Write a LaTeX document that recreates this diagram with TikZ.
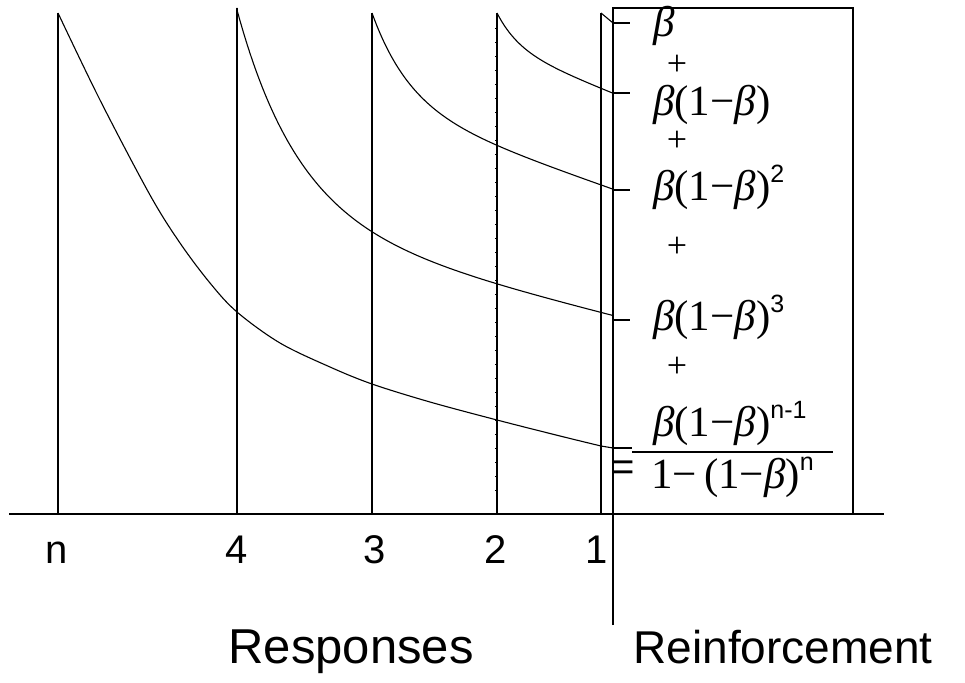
\documentclass[tikz,border=0pt]{standalone}
\usepackage{fontspec}
\setmainfont{Liberation Sans}
\newfontfamily\eqfont{Liberation Serif}
\newfontfamily\labfont{Liberation Sans}
\newcommand\bet{\textit{β}}
\newcommand\supr[1]{\raisebox{0.40em}{\labfont\fontsize{25}{25}\selectfont #1}}
\tikzset{
  axisline/.style={line width=2.2pt},
  respline/.style={line width=1.5pt},
  heavyline/.style={line width=2.4pt},
  decay/.style={line width=1.1pt},
  tickline/.style={line width=1.2pt},
  numlab/.style={font=\fontsize{40}{40}\selectfont, inner sep=0pt, anchor=base},
  eqterm/.style={font=\eqfont\fontsize{43}{43}\selectfont, inner sep=0pt, anchor=base west},
  plusterm/.style={font=\eqfont\fontsize{36}{36}\selectfont, inner sep=0pt, anchor=base},
}
\begin{document}
\begin{tikzpicture}[x=1pt,y=-1pt]
\useasboundingbox (0,0) rectangle (965,682);
% coordinates
\coordinate (axL) at (9,514);
\coordinate (axR) at (884,514);
\coordinate (tn) at (58,13);   \coordinate (bn) at (58,514);
\coordinate (t4) at (237,8);   \coordinate (b4) at (237,514);
\coordinate (t3) at (372,13);  \coordinate (b3) at (372,514);
\coordinate (t2) at (497,13);  \coordinate (b2) at (497,514);
\coordinate (t1) at (601,13);  \coordinate (b1) at (601,514);
\coordinate (rTop) at (613,8); \coordinate (rBot) at (613,625);
\coordinate (boxTR) at (853,8); \coordinate (boxBR) at (853,514);
\coordinate (k1) at (613,23);
\coordinate (k2) at (613,93);
\coordinate (k3) at (613,190);
\coordinate (k4) at (613,320);
\coordinate (k5) at (613,448);
% axis
\draw[axisline] (axL) -- (axR);
% response lines
\draw[respline] (bn) -- (tn);
\draw[heavyline] (b4) -- (t4);
\draw[heavyline] (b3) -- (t3);
\draw[respline] (b2) -- (t2);
\foreach \yy in {28,42,...,500} \draw[line width=0.7pt] (495,\yy) -- (497,\yy);
\draw[respline] (b1) -- (t1);
% reinforcement line and box
\draw[respline] (rBot) -- (rTop) -- (boxTR) -- (boxBR);
% ticks
\foreach \k in {k1,k2,k3,k4} \draw[tickline] (\k) -- ++(17,0);
\draw[tickline] (k5) -- ++(19,0);
% decay curves
\draw[decay] (t1) -- (k1);
\draw[decay] (t2) -- plot[domain=0:116, samples=60] ({497+\x}, {13+34*(1-exp(-\x/22))+0.4*\x}) -- (k2);
\draw[decay] (t3) -- plot[domain=0:241, samples=90] ({372+\x}, {13+92*(1-exp(-\x/38))+0.35*\x}) -- (k3);
\draw[decay] (t4) -- plot[domain=0:376, samples=120] ({237+\x}, {10+212*(1-exp(-\x/62))+0.25*\x}) -- (k4);
\draw[decay] plot[smooth,tension=0.55] coordinates {(58,13) (100,100) (150,195) (180,243) (210,283) (237,312) (280,343) (330,367) (372,384) (430,402) (497,420) (560,436) (601,446)} -- (k5);
% labels
\node[numlab] (ln) at (57,563) {n};
\node[numlab] (l4) at (237,563) {4};
\node[numlab] (l3) at (375,563) {3};
\node[numlab] (l2) at (496,563) {2};
\node[numlab] (l1) at (597,563) {1};
\node[font=\fontsize{49}{49}\selectfont, inner sep=0pt, anchor=base] (resp) at (351,663) {Responses};
\node[font=\fontsize{46}{46}\selectfont, inner sep=0pt, anchor=base] (reinf) at (783,663) {Reinforcement};
% equation terms
\node[eqterm] (e1) at (653,37) {\bet};
\node[plusterm] (p1) at (677,76) {+};
\node[eqterm] (e2) at (653,115) {\bet(1−\bet)};
\node[plusterm] (p2) at (677,151) {+};
\node[eqterm] (e3) at (653,200) {\bet(1−\bet)\supr{2}};
\node[plusterm] (p3) at (677,257) {+};
\node[eqterm] (e4) at (653,330) {\bet(1−\bet)\supr{3}};
\node[plusterm] (p4) at (677,377) {+};
\node[eqterm] (e5) at (653,436) {\bet(1−\bet)\supr{n-1}};
\draw[tickline] (632,452) -- (833,452);
\node[font=\labfont\fontsize{40}{40}\selectfont, inner sep=0pt] (eqs) at (623,471) {=};
\node[eqterm] (e6) at (651,488) {1−\,(1−\bet)\supr{n}};
\end{tikzpicture}
\end{document}
